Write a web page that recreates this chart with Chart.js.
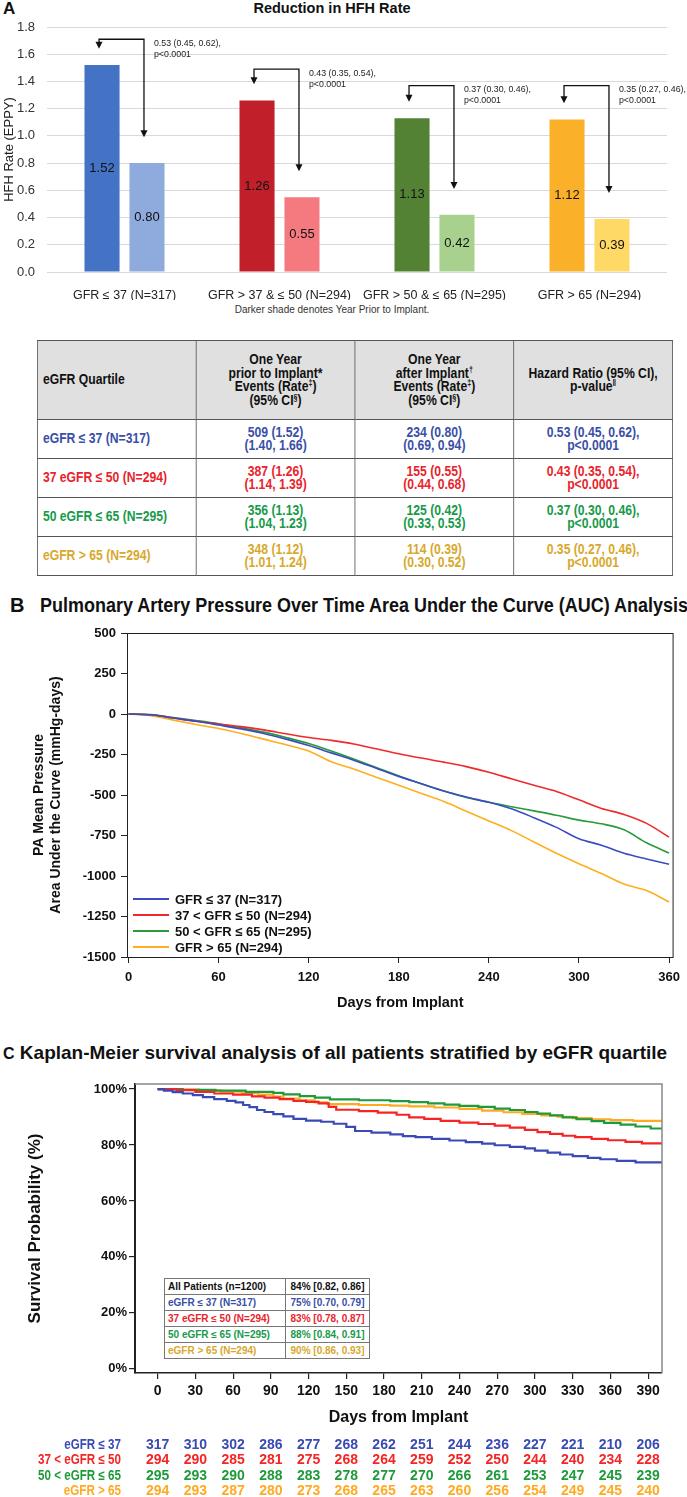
<!DOCTYPE html>
<html>
<head>
<meta charset="utf-8">
<script src="https://cdn.jsdelivr.net/npm/chart.js@4.4.1/dist/chart.umd.min.js"></script>
<style>
  html, body { margin: 0; padding: 0; background: #fff; }
  body { width: 687px; height: 1497px; position: relative; overflow: hidden;
         font-family: "Liberation Sans", Arial, sans-serif; color: #111; }
  .abs { position: absolute; white-space: nowrap; }
  .fit { transform-origin: 0 0; }
  canvas { position: absolute; left: 0; }
  #quartWrap { position: absolute; left: 37px; top: 340px; transform-origin: 0 0; transform: scaleX(0.84); }
  #quartTable { width: 756px; border-collapse: collapse; table-layout: fixed;
                font-weight: bold; font-size: 14.5px; line-height: 13.5px; }
  #quartTable td { border: 1.5px solid #555; text-align: center; padding: 0; white-space: nowrap; }
  #quartTable tr.head td { background: #e0e0e0; height: 78px; color: #111; }
  #quartTable tr.row td { height: 38px; }
  #quartTable td.first { text-align: left; padding-left: 6px; }
  #quartTable sup { font-size: 8.5px; line-height: 0; vertical-align: 5px; }
  #kmTable { position: absolute; left: 164px; top: 1278px; width: 205px; border-collapse: collapse;
             table-layout: fixed; font-weight: bold; font-size: 10px; background: #fff; }
  #kmTable td { border: 1px solid #777; height: 15px; padding: 0 0 0 3px; white-space: nowrap; }
  #kmTable td.val { text-align: center; padding: 0; }
</style>
</head>
<body>
<div class="abs" style="left:3px;top:-1px;font-weight:bold;font-size:17px;">A</div>
<div class="abs" style="left:0;width:664px;top:0;text-align:center;font-weight:bold;font-size:14.5px;line-height:16px;">Reduction in HFH Rate</div>
<canvas id="hfhChart" width="687" height="300" style="top:0"></canvas>
<div class="abs" style="left:0;width:664px;top:304px;text-align:center;font-size:10px;line-height:12px;color:#333;">Darker shade denotes Year Prior to Implant.</div>
<div id="quartWrap"><table id="quartTable"></table></div>

<div class="abs fit" data-w="16" style="left:10px;top:594px;font-weight:bold;font-size:20px;line-height:22px;">B</div>
<div class="abs fit" data-w="648" style="left:40px;top:594px;font-weight:bold;font-size:20px;line-height:22px;">Pulmonary Artery Pressure Over Time Area Under the Curve (AUC) Analysis</div>
<canvas id="aucChart" width="687" height="395" style="top:620px"></canvas>

<div class="abs fit" data-w="666" style="left:3px;top:1042px;font-weight:bold;font-size:19px;line-height:22px;"><span style="font-size:16px">C</span> Kaplan-Meier survival analysis of all patients stratified by eGFR quartile</div>
<canvas id="kmChart" width="687" height="427" style="top:1070px"></canvas>
<table id="kmTable"></table>

<script>
const SANS = '"Liberation Sans", Arial, sans-serif';

// ---- Panel A: HFH rate bars ----
const hfhGroups = ["GFR ≤ 37 (N=317)", "GFR > 37 & ≤ 50 (N=294)", "GFR > 50 & ≤ 65 (N=295)", "GFR > 65 (N=294)"];
const ratePrior = [1.52, 1.26, 1.13, 1.12];
const rateAfter = [0.80, 0.55, 0.42, 0.39];
const hazardRatio = ["0.53 (0.45, 0.62),", "0.43 (0.35, 0.54),", "0.37 (0.30, 0.46),", "0.35 (0.27, 0.46),"];
const hazardP = ["p<0.0001", "p<0.0001", "p<0.0001", "p<0.0001"];
const bracketLevel = [1.71, 1.49, 1.37, 1.37];
const darkShade = ["#4472c4", "#c1202a", "#548235", "#fbb02a"];
const lightShade = ["#8faadc", "#f47a80", "#a9d18e", "#ffd966"];
const hfhTicks = [0, 0.2, 0.4, 0.6, 0.8, 1.0, 1.2, 1.4, 1.6, 1.8];

// ---- Panel A: table ----
const quartileLabels = ["eGFR ≤ 37 (N=317)", "37 eGFR ≤ 50 (N=294)", "50 eGFR ≤ 65 (N=295)", "eGFR > 65 (N=294)"];
const quartileColors = ["#3a4fa6", "#e8242c", "#189a4a", "#d8a82c"];
const priorEvents = ["509 (1.52)", "387 (1.26)", "356 (1.13)", "348 (1.12)"];
const priorCI = ["(1.40, 1.66)", "(1.14, 1.39)", "(1.04, 1.23)", "(1.01, 1.24)"];
const afterEvents = ["234 (0.80)", "155 (0.55)", "125 (0.42)", "114 (0.39)"];
const afterCI = ["(0.69, 0.94)", "(0.44, 0.68)", "(0.33, 0.53)", "(0.30, 0.52)"];

// ---- Panel B: PA pressure AUC ----
const aucLabels = ["GFR ≤ 37 (N=317)", "37 < GFR ≤ 50 (N=294)", "50 < GFR ≤ 65 (N=295)", "GFR > 65 (N=294)"];
const aucColors = ["#3b4cc0", "#f02a2a", "#2a9a3a", "#ffae1f"];
const aucDays = [0, 15, 30, 45, 60, 75, 90, 105, 120, 135, 150, 165, 180, 195, 210, 225, 240, 255, 270, 285, 300, 315, 330, 345, 360];
const aucGfr37 = [0, -5, -25, -45, -68, -92, -120, -155, -195, -240, -285, -335, -385, -430, -475, -512, -545, -585, -640, -700, -770, -810, -860, -895, -928];
const aucGfr50 = [0, -5, -25, -45, -62, -78, -98, -122, -145, -163, -185, -215, -245, -272, -297, -325, -360, -400, -440, -478, -530, -583, -620, -675, -760];
const aucGfr65 = [0, -4, -22, -40, -60, -85, -112, -145, -182, -228, -278, -330, -382, -430, -475, -515, -545, -572, -598, -625, -655, -678, -715, -795, -858];
const aucGfrOver65 = [0, -10, -38, -65, -90, -120, -155, -190, -228, -295, -340, -390, -440, -490, -540, -600, -660, -720, -790, -860, -925, -985, -1050, -1090, -1160];
const aucTicksX = [0, 60, 120, 180, 240, 300, 360];
const aucTicksY = [500, 250, 0, -250, -500, -750, -1000, -1250, -1500];

// ---- Panel C: Kaplan-Meier ----
const kmDays37 = [0, 5, 12, 20, 28, 36, 45, 55, 62, 68, 73, 79, 85, 92, 100, 108, 118, 130, 140, 150, 157, 170, 185, 195, 205, 218, 232, 245, 258, 268, 280, 292, 300, 310, 320, 330, 342, 352, 365, 380, 401];
const kmSurv37 = [100, 99.4, 98.9, 98.4, 97.8, 97.1, 96.4, 95.8, 95.2, 94.3, 93.5, 92.5, 91.8, 91.0, 90.2, 89.3, 88.7, 88.3, 87.6, 86.5, 85.0, 84.4, 83.8, 83.2, 82.8, 82.2, 81.6, 81.0, 80.5, 79.9, 79.3, 78.8, 78.0, 77.3, 76.6, 76.0, 75.4, 74.9, 74.3, 73.8, 73.8];
const kmDays50 = [0, 15, 30, 45, 60, 75, 85, 97, 108, 118, 128, 136, 142, 160, 175, 190, 200, 212, 225, 240, 255, 268, 280, 292, 302, 312, 322, 332, 345, 358, 372, 385, 401];
const kmSurv50 = [100, 99.6, 99.0, 98.4, 98.0, 97.4, 96.9, 96.4, 95.8, 95.4, 94.9, 93.6, 92.6, 92.1, 91.6, 90.8, 89.9, 89.3, 88.6, 88.0, 87.5, 86.9, 86.2, 85.4, 84.6, 84.0, 83.3, 82.8, 82.2, 81.7, 81.1, 80.6, 80.6];
const kmDays65 = [0, 20, 46, 70, 92, 100, 113, 125, 137, 160, 185, 200, 215, 228, 240, 255, 268, 280, 292, 302, 312, 322, 333, 345, 355, 368, 380, 392, 401];
const kmSurv65 = [100, 99.7, 99.4, 99.0, 98.6, 98.1, 97.5, 96.9, 96.3, 96.0, 95.7, 95.3, 94.9, 94.4, 94.0, 93.6, 93.0, 92.5, 91.8, 91.2, 90.6, 89.9, 89.2, 88.5, 87.9, 87.3, 86.6, 85.9, 85.5];
const kmDaysOver65 = [0, 15, 33, 50, 67, 80, 92, 100, 113, 125, 135, 160, 185, 200, 220, 240, 258, 275, 290, 305, 318, 330, 345, 360, 378, 401];
const kmSurvOver65 = [100, 99.8, 99.5, 99.1, 98.5, 98.0, 97.3, 96.6, 96.0, 95.2, 94.6, 94.3, 94.1, 93.8, 93.4, 92.9, 92.3, 91.7, 91.1, 90.6, 90.1, 89.6, 89.2, 88.9, 88.6, 88.6];
const kmColors = ["#3a4ab5", "#f52525", "#1f9a3a", "#ffaa22"];
const kmTicksY = [0, 20, 40, 60, 80, 100];
const riskDays = [0, 30, 60, 90, 120, 150, 180, 210, 240, 270, 300, 330, 360, 390];
const riskLabels = ["eGFR ≤ 37", "37 < eGFR ≤ 50", "50 < eGFR ≤ 65", "eGFR > 65"];
const atRisk37 = [317, 310, 302, 286, 277, 268, 262, 251, 244, 236, 227, 221, 210, 206];
const atRisk50 = [294, 290, 285, 281, 275, 268, 264, 259, 252, 250, 244, 240, 234, 228];
const atRisk65 = [295, 293, 290, 288, 283, 278, 277, 270, 266, 261, 253, 247, 245, 239];
const atRiskOver65 = [294, 293, 287, 280, 273, 268, 265, 263, 260, 256, 254, 249, 245, 240];
const kmSummaryLabels = ["All Patients (n=1200)", "eGFR ≤ 37 (N=317)", "37 eGFR ≤ 50 (N=294)", "50 eGFR ≤ 65 (N=295)", "eGFR > 65 (N=294)"];
const kmSummaryValues = ["84% [0.82, 0.86]", "75% [0.70, 0.79]", "83% [0.78, 0.87]", "88% [0.84, 0.91]", "90% [0.86, 0.93]"];
const kmSummaryColors = ["#111", "#3a4fa6", "#e8242c", "#189a4a", "#d8a82c"];


// squeeze the bold titles to the width they take in the figure
document.querySelectorAll(".fit").forEach(el => {
  const target = parseFloat(el.dataset.w);
  if (el.offsetWidth > target) el.style.transform = `scaleX(${target / el.offsetWidth})`;
});

// build the two html tables
const qt = document.getElementById("quartTable");
qt.innerHTML =
  '<colgroup><col style="width:189px"><col style="width:189px"><col style="width:189px"><col style="width:189px"></colgroup>' +
  '<tr class="head"><td class="first">eGFR Quartile</td>' +
  '<td>One Year<br>prior to Implant*<br>Events (Rate<sup>‡</sup>)<br>(95% CI<sup>§</sup>)</td>' +
  '<td>One Year<br>after Implant<sup>†</sup><br>Events (Rate<sup>‡</sup>)<br>(95% CI<sup>§</sup>)</td>' +
  '<td>Hazard Ratio (95% CI),<br>p-value<sup>‖</sup></td></tr>' +
  quartileLabels.map((lab, i) =>
    `<tr class="row" style="color:${quartileColors[i]}"><td class="first">${lab}</td>` +
    `<td>${priorEvents[i]}<br>${priorCI[i]}</td><td>${afterEvents[i]}<br>${afterCI[i]}</td>` +
    `<td>${hazardRatio[i]}<br>${hazardP[i]}</td></tr>`).join("");

const kt = document.getElementById("kmTable");
kt.innerHTML = '<colgroup><col style="width:121px"><col style="width:84px"></colgroup>' +
  kmSummaryLabels.map((lab, i) =>
    `<tr style="color:${kmSummaryColors[i]}"><td>${lab}</td><td class="val">${kmSummaryValues[i]}</td></tr>`).join("");


function arrowHead(ctx, x, y) {
  ctx.beginPath();
  ctx.moveTo(x - 3.5, y - 7);
  ctx.lineTo(x + 3.5, y - 7);
  ctx.lineTo(x, y);
  ctx.closePath();
  ctx.fill();
}

// numbers inside the bars
const barValuePlugin = {
  id: "barValues",
  afterDatasetsDraw(chart) {
    const ctx = chart.ctx;
    ctx.save();
    ctx.font = "13px " + SANS;
    ctx.fillStyle = "#111";
    ctx.textAlign = "center";
    ctx.textBaseline = "middle";
    chart.data.datasets.forEach((ds, di) => {
      chart.getDatasetMeta(di).data.forEach((bar, i) => {
        ctx.fillText(ds.data[i].toFixed(2), bar.x, (bar.y + bar.base) / 2);
      });
    });
    ctx.restore();
  }
};

// bracket arrows with the hazard ratio text
const bracketPlugin = {
  id: "brackets",
  afterDatasetsDraw(chart) {
    const ctx = chart.ctx, y = chart.scales.y;
    const dark = chart.getDatasetMeta(0).data, light = chart.getDatasetMeta(1).data;
    ctx.save();
    ctx.lineWidth = 1.3;
    hfhGroups.forEach((g, i) => {
      const x1 = dark[i].x - 3, x2 = light[i].x - 3;
      const top = y.getPixelForValue(bracketLevel[i]);
      const end1 = y.getPixelForValue(ratePrior[i] + 0.12);
      const end2 = y.getPixelForValue(rateAfter[i] + 0.19);
      ctx.strokeStyle = "#111";
      ctx.fillStyle = "#111";
      ctx.beginPath();
      ctx.moveTo(x1, end1 - 5);
      ctx.lineTo(x1, top);
      ctx.lineTo(x2, top);
      ctx.lineTo(x2, end2 - 5);
      ctx.stroke();
      arrowHead(ctx, x1, end1);
      arrowHead(ctx, x2, end2);
      ctx.font = "8.8px " + SANS;
      ctx.fillStyle = "#222";
      ctx.textAlign = "left";
      ctx.textBaseline = "middle";
      ctx.fillText(hazardRatio[i], x2 + 10, top + 4);
      ctx.fillText(hazardP[i], x2 + 10, top + 15);
    });
    ctx.restore();
  }
};

new Chart(document.getElementById("hfhChart"), {
  type: "bar",
  data: {
    labels: hfhGroups,
    datasets: [
      { label: "One year prior", data: ratePrior, backgroundColor: darkShade },
      { label: "One year after", data: rateAfter, backgroundColor: lightShade }
    ]
  },
  options: {
    responsive: false,
    animation: false,
    layout: { padding: { top: 27, right: 20, left: 0, bottom: 0 } },
    datasets: { bar: { categoryPercentage: 0.58, barPercentage: 0.78 } },
    plugins: { legend: { display: false }, tooltip: { enabled: false } },
    scales: {
      x: {
        grid: { display: false },
        border: { display: false },
        ticks: { font: { family: SANS, size: 12.5 }, color: "#222", padding: 8 },
        afterFit: s => { s.height = 28; }
      },
      y: {
        min: 0, max: 1.8,
        afterBuildTicks: s => { s.ticks = hfhTicks.map(v => ({ value: v })); },
        ticks: { font: { family: SANS, size: 13 }, color: "#333", padding: 12, callback: v => v.toFixed(1) },
        grid: { color: "#d9d9d9", drawTicks: false },
        border: { display: false },
        title: { display: true, text: "HFH Rate (EPPY)", font: { family: SANS, size: 13 }, color: "#222", padding: { top: 2, bottom: 0 } },
        afterFit: s => { s.width = 47; }
      }
    }
  },
  plugins: [barValuePlugin, bracketPlugin]
});


// ---- Panel B chart ----
const frameBPlugin = {
  id: "frameB",
  afterDraw(chart) {
    const { ctx, chartArea: a } = chart;
    ctx.save();
    ctx.strokeStyle = "#222";
    ctx.lineWidth = 1;
    ctx.strokeRect(a.left + 0.5, a.top + 0.5, a.right - a.left - 1, a.bottom - a.top);
    // legend inside the plot
    ctx.font = "bold 13px " + SANS;
    ctx.textBaseline = "middle";
    ctx.textAlign = "left";
    chart.data.datasets.forEach((ds, i) => {
      const y = a.bottom - 58 + i * 16;
      ctx.strokeStyle = ds.borderColor;
      ctx.lineWidth = 2;
      ctx.beginPath();
      ctx.moveTo(a.left + 6, y);
      ctx.lineTo(a.left + 42, y);
      ctx.stroke();
      ctx.fillStyle = "#111";
      ctx.fillText(ds.label, a.left + 48, y + 1);
    });
    ctx.restore();
  }
};

const aucSeries = [aucGfr37, aucGfr50, aucGfr65, aucGfrOver65];
new Chart(document.getElementById("aucChart"), {
  type: "line",
  data: {
    datasets: aucSeries.map((vals, k) => ({
      label: aucLabels[k],
      data: aucDays.map((d, i) => ({ x: d, y: vals[i] })),
      borderColor: aucColors[k],
      borderWidth: 1.6,
      pointRadius: 0,
      cubicInterpolationMode: "monotone"
    }))
  },
  options: {
    responsive: false,
    animation: false,
    layout: { padding: { top: 13, right: 9, left: 0, bottom: 0 } },
    plugins: { legend: { display: false }, tooltip: { enabled: false } },
    scales: {
      x: {
        type: "linear", min: -1, max: 363,
        afterBuildTicks: s => { s.ticks = aucTicksX.map(v => ({ value: v })); },
        ticks: { font: { family: SANS, size: 13, weight: "bold" }, color: "#111", padding: 7, callback: v => String(v) },
        grid: { drawOnChartArea: false, tickLength: 6, color: "#222" },
        border: { display: false },
        title: { display: true, text: "Days from Implant", font: { family: SANS, size: 14.5, weight: "bold" }, color: "#111", padding: { top: 0, bottom: 3 } },
        afterFit: s => { s.height = 58; }
      },
      y: {
        min: -1500, max: 500,
        afterBuildTicks: s => { s.ticks = aucTicksY.map(v => ({ value: v })); },
        ticks: { font: { family: SANS, size: 13, weight: "bold" }, color: "#111", padding: 5, callback: v => String(v) },
        grid: { drawOnChartArea: false, tickLength: 6, color: "#222" },
        border: { display: false },
        title: { display: true, text: ["PA Mean Pressure", "Area Under the Curve (mmHg-days)"], font: { family: SANS, size: 14, weight: "bold" }, color: "#111", padding: { top: 30.6, bottom: 0 } },
        afterFit: s => { s.width = 127; }
      }
    }
  },
  plugins: [frameBPlugin]
});


// ---- Panel C chart ----
const riskRows = [atRisk37, atRisk50, atRisk65, atRiskOver65];
const riskTablePlugin = {
  id: "riskTable",
  afterDraw(chart) {
    const { ctx, chartArea: a, scales: { x } } = chart;
    ctx.save();
    // gray top and right frame
    ctx.strokeStyle = "#888";
    ctx.lineWidth = 1.5;
    ctx.beginPath();
    ctx.moveTo(a.left, a.top);
    ctx.lineTo(a.right, a.top);
    ctx.lineTo(a.right, a.bottom);
    ctx.stroke();
    ctx.font = "bold 14px " + SANS;
    ctx.textBaseline = "middle";
    riskLabels.forEach((lab, r) => {
      const y = a.bottom + 72 + r * 15.5;
      ctx.fillStyle = kmColors[r];
      // the row labels are set in a condensed face
      ctx.save();
      ctx.translate(121, y);
      ctx.scale(0.83, 1);
      ctx.textAlign = "right";
      ctx.fillText(lab, 0, 0);
      ctx.restore();
      ctx.textAlign = "center";
      riskRows[r].forEach((n, j) => ctx.fillText(String(n), x.getPixelForValue(riskDays[j]), y));
    });
    ctx.restore();
  }
};

const kmDays = [kmDays37, kmDays50, kmDays65, kmDaysOver65];
const kmSurv = [kmSurv37, kmSurv50, kmSurv65, kmSurvOver65];
new Chart(document.getElementById("kmChart"), {
  type: "line",
  data: {
    datasets: kmDays.map((days, k) => ({
      label: riskLabels[k],
      data: days.map((d, i) => ({ x: d, y: kmSurv[k][i] })),
      borderColor: kmColors[k],
      borderWidth: 2.2,
      pointRadius: 0,
      stepped: true
    }))
  },
  options: {
    responsive: false,
    animation: false,
    layout: { padding: { top: 14, right: 25, left: 0, bottom: 0 } },
    plugins: { legend: { display: false }, tooltip: { enabled: false } },
    scales: {
      x: {
        type: "linear", min: -18, max: 401,
        afterBuildTicks: s => { s.ticks = riskDays.map(v => ({ value: v })); },
        ticks: { font: { family: SANS, size: 14, weight: "bold" }, color: "#111", padding: 4, callback: v => String(v) },
        grid: { drawOnChartArea: false, tickLength: 6, color: "#222", lineWidth: 1.2 },
        border: { display: true, color: "#222", width: 1.5 },
        title: { display: true, text: "Days from Implant", font: { family: SANS, size: 16, weight: "bold" }, color: "#111", padding: { top: 0, bottom: 70 } },
        afterFit: s => { s.height = 124; }
      },
      y: {
        min: -1.5, max: 101.8,
        afterBuildTicks: s => { s.ticks = kmTicksY.map(v => ({ value: v })); },
        ticks: { font: { family: SANS, size: 13, weight: "bold" }, color: "#111", padding: 2, callback: v => v + "%" },
        grid: { drawOnChartArea: false, tickLength: 6, color: "#222", lineWidth: 1.2 },
        border: { display: true, color: "#222", width: 2 },
        title: { display: true, text: "Survival Probability (%)", font: { family: SANS, size: 17, weight: "bold" }, color: "#111", padding: { top: 25, bottom: 0 } },
        afterFit: s => { s.width = 135; }
      }
    }
  },
  plugins: [riskTablePlugin]
});
</script>
</body>
</html>
